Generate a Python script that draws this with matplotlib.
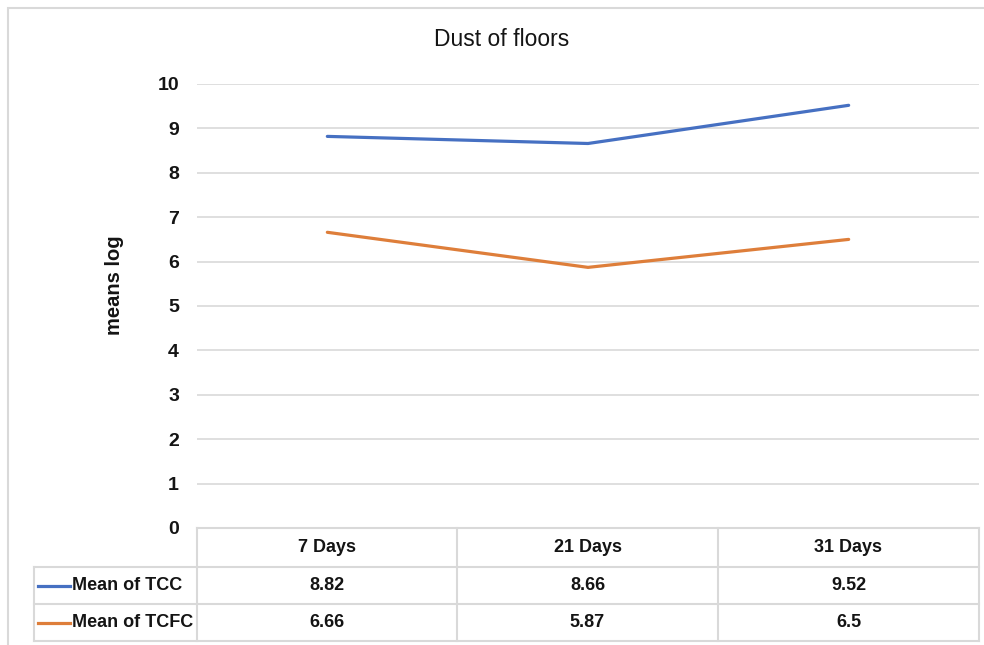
import matplotlib.pyplot as plt
from matplotlib.lines import Line2D
from matplotlib.patches import Rectangle

categories = ["7 Days", "21 Days", "31 Days"]
series_names = ["Mean of TCC", "Mean of TCFC"]
tcc = [8.82, 8.66, 9.52]
tcfc = [6.66, 5.87, 6.5]
series_values = [tcc, tcfc]
series_labels = [["8.82", "8.66", "9.52"], ["6.66", "5.87", "6.5"]]
colors = ["#4670C2", "#DE7E3A"]

W, H = 984, 645
GRID = "#d9d9d9"
TXT = "#141414"
FONT = "Liberation Sans"


def fx(px):
    return px / W


def fy(py):
    return 1 - py / H


fig = plt.figure(figsize=(W / 100, H / 100), dpi=100)

# outer chart border (cropped on right/bottom)
fig.patches.append(Rectangle((fx(8), fy(700)), fx(1000) - fx(8), fy(8) - fy(700),
                             transform=fig.transFigure, fill=False,
                             edgecolor=GRID, linewidth=1.5))

left, right, top, bottom = 197, 979, 84, 528
ax = fig.add_axes([fx(left), fy(bottom), fx(right) - fx(left), fy(top) - fy(bottom)])
x = list(range(len(categories)))
for vals, c in zip(series_values, colors):
    ax.plot(x, vals, color=c, linewidth=2.3, solid_capstyle="round")
ax.set_xlim(-0.5, len(categories) - 0.5)
ax.set_ylim(0, 10)
ax.set_yticks(range(0, 11))
ax.yaxis.grid(True, color=GRID, linewidth=1.2)
ax.set_axisbelow(True)
ax.tick_params(axis="y", length=0, pad=13, labelsize=14, labelcolor=TXT)
ax.tick_params(axis="x", length=0, labelbottom=False)
for lab in ax.get_yticklabels():
    lab.set_fontfamily(FONT)
    lab.set_fontweight("bold")
for s in ax.spines.values():
    s.set_visible(False)

fig.text(fx(502), fy(40), "Dust of floors", ha="center", va="center",
         fontsize=16.5, family=FONT, color=TXT)
fig.text(fx(115), fy(285), "means log", rotation=90, ha="center", va="center",
         fontsize=14.5, family=FONT, fontweight="bold", color=TXT)

# data table
row_y = [528, 567, 604, 641]
col_x = [left, 457, 718, right]
label_left = 34


def hline(y, x0, x1):
    fig.add_artist(Line2D([fx(x0), fx(x1)], [fy(y), fy(y)], color=GRID, linewidth=1.5))


def vline(xp, y0, y1):
    fig.add_artist(Line2D([fx(xp), fx(xp)], [fy(y0), fy(y1)], color=GRID, linewidth=1.5))


hline(row_y[0], left, right)
for y in row_y[1:]:
    hline(y, label_left, right)
for xp in col_x:
    vline(xp, row_y[0], row_y[-1])
vline(label_left, row_y[1], row_y[-1])

for i, cat in enumerate(categories):
    cx = (col_x[i] + col_x[i + 1]) / 2
    fig.text(fx(cx), fy((row_y[0] + row_y[1]) / 2), cat, ha="center", va="center",
             fontsize=13, family=FONT, fontweight="bold", color=TXT)

for r, (name, c) in enumerate(zip(series_names, colors)):
    cy = (row_y[r + 1] + row_y[r + 2]) / 2
    fig.add_artist(Line2D([fx(38), fx(70)], [fy(cy), fy(cy)], color=c, linewidth=2.3))
    fig.text(fx(72), fy(cy), name, ha="left", va="center",
             fontsize=13, family=FONT, fontweight="bold", color=TXT)
    for i, v in enumerate(series_labels[r]):
        cx = (col_x[i] + col_x[i + 1]) / 2
        fig.text(fx(cx), fy(cy), v, ha="center", va="center",
                 fontsize=13, family=FONT, fontweight="bold", color=TXT)

fig.savefig("out.png", dpi=100, facecolor="white")
